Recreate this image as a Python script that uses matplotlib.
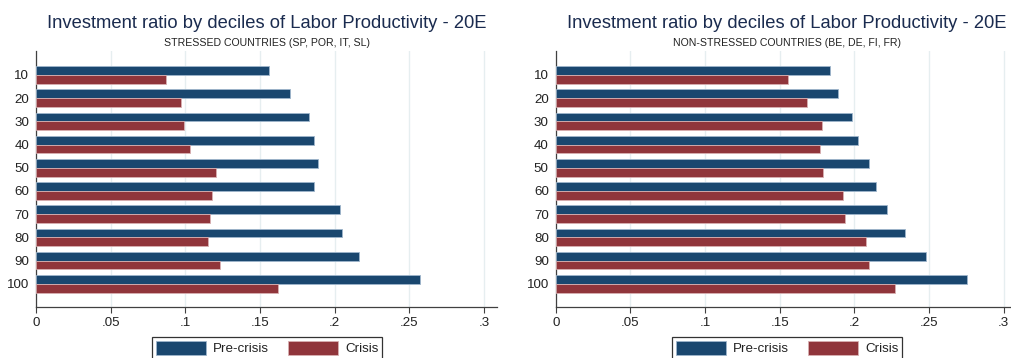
import numpy as np
import matplotlib
matplotlib.use("Agg")
import matplotlib.pyplot as plt

plt.rcParams['font.family'] = ['Liberation Sans', 'DejaVu Sans']

deciles = ['10', '20', '30', '40', '50', '60', '70', '80', '90', '100']

# stressed countries
stressed_pre = [0.156, 0.170, 0.183, 0.186, 0.1885, 0.186, 0.2035, 0.2048, 0.2162, 0.2568]
stressed_crisis = [0.087, 0.097, 0.099, 0.103, 0.1207, 0.1178, 0.1165, 0.1153, 0.1232, 0.1622]

# non-stressed countries
nonstressed_pre = [0.1836, 0.1892, 0.1985, 0.2025, 0.2100, 0.2145, 0.2220, 0.2336, 0.2481, 0.2750]
nonstressed_crisis = [0.1553, 0.1682, 0.1783, 0.1769, 0.1789, 0.1925, 0.1938, 0.2076, 0.2096, 0.2270]

xticks = [0, 0.05, 0.1, 0.15, 0.2, 0.25, 0.3]
xtick_labels = ['0', '.05', '.1', '.15', '.2', '.25', '.3']

title = 'Investment ratio by deciles of Labor Productivity - 20E'
subtitles = ['STRESSED COUNTRIES (SP, POR, IT, SL)', 'NON-STRESSED COUNTRIES (BE, DE, FI, FR)']

NAVY = '#1a476f'
MAROON = '#90353b'
GRID = '#e6eef0'
SPINE = '#404040'
TEXT = '#222222'

W, H = 1011, 358
fig = plt.figure(figsize=(W / 100, H / 100), dpi=100)
fig.patch.set_facecolor('white')


def draw_panel(left_px, pre, crisis, subtitle, center_px):
    ax = fig.add_axes([left_px / W, 1 - 307 / H, 461 / W, 256 / H])
    y = np.arange(len(deciles))
    h = 0.38
    ax.barh(y - h / 2, pre, height=h, color=NAVY, edgecolor='#9fb6cc', linewidth=0.6,
            label='Pre-crisis', zorder=3)
    ax.barh(y + h / 2, crisis, height=h, color=MAROON, edgecolor='#d8b0b2', linewidth=0.6,
            label='Crisis', zorder=3)
    ax.set_xlim(0, 0.3086)
    ax.set_ylim(10.0, -1.03)
    ax.set_yticks(y)
    ax.set_yticklabels(deciles, fontsize=9.6, color=TEXT)
    ax.tick_params(axis='y', length=0, pad=5)
    ax.set_xticks(xticks)
    ax.set_xticklabels(xtick_labels, fontsize=9.6, color=TEXT)
    ax.tick_params(axis='x', length=4, width=0.8, color=SPINE, pad=3)
    ax.grid(axis='x', color=GRID, linewidth=1, zorder=0)
    for s in ['top', 'right']:
        ax.spines[s].set_visible(False)
    for s in ['left', 'bottom']:
        ax.spines[s].set_color(SPINE)
        ax.spines[s].set_linewidth(0.9)

    fig.text(center_px / W, 1 - 24 / H, title, ha='center', va='center',
             fontsize=13.2, color='#1a2b4f')
    fig.text(center_px / W, 1 - 43 / H, subtitle, ha='center', va='center',
             fontsize=7.6, color=TEXT)

    leg = ax.legend(loc='upper center', bbox_to_anchor=((center_px) / W, 1 - 337 / H),
                    bbox_transform=fig.transFigure, ncol=2, fontsize=9.6,
                    handlelength=3.8, handleheight=1.2, handletextpad=0.5,
                    columnspacing=1.4, borderpad=0.3, borderaxespad=0,
                    fancybox=False, frameon=True)
    leg.get_frame().set_edgecolor('black')
    leg.get_frame().set_linewidth(0.9)
    for t in leg.get_texts():
        t.set_color(TEXT)
    return ax


draw_panel(36, stressed_pre, stressed_crisis, subtitles[0], 267)
draw_panel(555.7, nonstressed_pre, nonstressed_crisis, subtitles[1], 787)

fig.savefig('out.png', dpi=100, facecolor='white')
